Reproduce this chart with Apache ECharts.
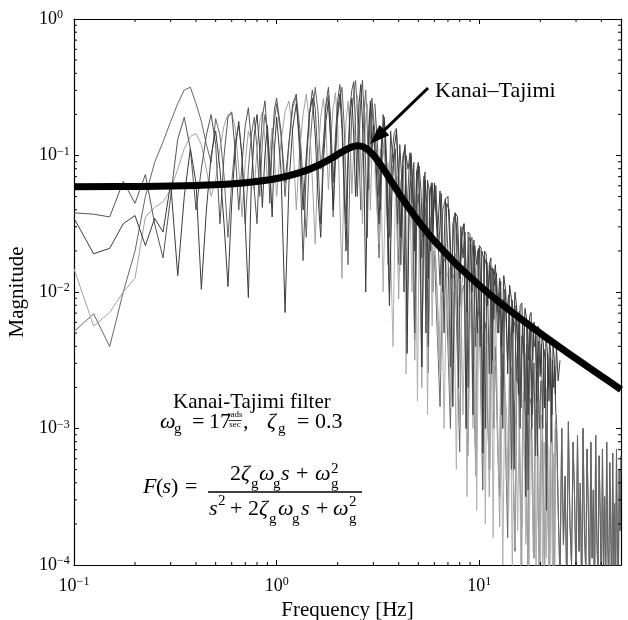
<!DOCTYPE html>
<html>
<head>
<meta charset="utf-8">
<script src="https://cdn.jsdelivr.net/npm/echarts@6/dist/echarts.min.js"></script>
<style>html,body{margin:0;padding:0;background:#fff;overflow:hidden}#c{width:628px;height:620px}</style>
</head>
<body>
<div id="c"></div>
<script>
// ---------------- data ----------------
// Frequency grids [Hz]
const FREQ = [
  0.1,0.125,0.15,0.175,0.2,0.225,0.25,0.275,0.3,0.325,0.35,0.375,0.4,0.425,0.45,0.475,0.5,0.525,0.55,0.575,0.6,0.625,0.65,0.675,0.7,0.725,0.75,0.775,0.8,0.825,0.85,0.875,0.9,0.925,0.95,0.975,
  1,1.05,1.1,1.15,1.2,1.25,1.3,1.35,1.4,1.45,1.5,1.55,1.6,1.65,1.7,1.75,1.8,1.85,1.9,1.95,2,2.05,2.1,2.15,2.2,2.25,2.3,2.35,2.4,2.45,2.5,2.55,2.6,2.65,2.7,2.75,2.8,2.85,2.9,2.95,
  3,3.1,3.2,3.3,3.4,3.5,3.6,3.7,3.8,3.9,4,4.1,4.2,4.3,4.4,4.5,4.6,4.7,4.8,4.9,5,5.1,5.2,5.3,5.4,5.5,5.6,5.7,5.8,5.9,
  6,6.2,6.4,6.6,6.8,7,7.2,7.4,7.6,7.8,8,8.2,8.4,8.6,8.8,9,9.2,9.4,9.6,9.8,10,10.2,10.4,10.6,10.8,11,11.2,11.4,11.6,11.8,
  12,12.3,12.6,12.9,13.2,13.5,13.8,14.1,14.4,14.7,15,15.3,15.6,15.9,16.2,16.5,16.8,17.1,17.4,17.7,18,18.3,18.6,18.9,19.2,19.5,19.8,20.1,20.4,20.7,21,21.3,21.6,21.9,22.2,22.5,22.8,23.1,23.4,23.7,
  24,24.5,25,25.5,26,26.5,27,27.5,28,28.5,29,29.5,30,30.5,31,31.5,32,32.5,33,33.5,34,34.5,35,35.5,36,36.5,37,37.5,38,38.5,39,39.5,40,40.5,41,41.5,42,42.5,43,43.5,44,44.5,45,45.5,46,46.5,47,47.5,48,48.5,49,49.5,50
];
const FREQ_MID = [
  3.05,3.15,3.25,3.35,3.45,3.55,3.65,3.75,3.85,3.95,4.05,4.15,4.25,4.35,4.45,4.55,4.65,4.75,4.85,4.95,5.05,5.15,5.25,5.35,5.45,5.55,5.65,5.75,5.85,5.95,
  6.1,6.3,6.5,6.7,6.9,7.1,7.3,7.5,7.7,7.9,8.1,8.3,8.5,8.7,8.9,9.1,9.3,9.5,9.7,9.9,10.1,10.3,10.5,10.7,10.9,11.1,11.3,11.5,11.7,11.9,
  12.15,12.45,12.75,13.05,13.35,13.65,13.95,14.25,14.55,14.85,15.15,15.45,15.75,16.05,16.35,16.65,16.95,17.25,17.55,17.85,18.15,18.45,18.75,19.05,19.35,19.65,19.95,20.25,20.55,20.85,21.15,21.45,21.75,22.05,22.35,22.65,22.95,23.25,23.55,23.85
];
// Spectra as 100*log10(magnitude)
const SPEC_A_LOG = [
  -146,-172,-168,-150,-144,-166,-146,-156,-120,-188,-130,-95,-120,-198,-140,-100,-82,-110,-150,-196,-135,-95,-75,-102,-150,-204,-120,-85,-70,-96,-138,-100,-78,-108,-145,-95,
  -72,-110,-215,-120,-80,-62,-90,-140,-100,-70,-58,-85,-130,-160,-105,-75,-60,-92,-140,-95,-68,-55,-80,-125,-170,-110,-72,-58,-85,-130,-100,-62,-48,-75,-118,-200,-130,-80,-60,-95,
  -78,-110,-150,-92,-75,-120,-210,-130,-95,-82,-115,-160,-105,-92,-245,-140,-100,-120,-170,-112,-105,-150,-255,-160,-118,-135,-190,-125,-122,-165,
  -120,-160,-126,-200,-132,-130,-175,-284,-142,-145,-190,-160,-150,-300,-156,-158,-200,-162,-162,-230,-166,-168,-318,-170,-172,-210,-180,-175,-250,-190,
  -180,-215,-190,-240,-188,-200,-260,-195,-205,-230,-200,-212,-275,-210,-208,-245,-212,-220,-290,-218,-215,-250,-222,-230,-280,-225,-228,-260,-232,-238,-285,-235,-240,-270,-236,-245,-290,-240,-248,-275,
  -240,-265,-250
];
const SPEC_D_LOG = [
  -142,-143,-145,-119,-135,-114,-150,-175,-130,-88,-72,-95,-140,-110,-85,-70,-92,-150,-100,-72,-68,-98,-140,-105,-78,-65,-90,-125,-150,-100,-72,-60,-85,-135,-92,-66,
  -58,-82,-120,-90,-62,-55,-100,-177,-110,-70,-52,-66,-105,-150,-95,-62,-50,-75,-120,-85,-60,-48,-70,-115,-150,-98,-65,-52,-46,-80,-130,-90,-60,-45,-70,-110,-160,-95,-65,-58,
  -70,-95,-130,-85,-72,-110,-160,-100,-84,-80,-125,-180,-100,-95,-140,-110,-98,-130,-230,-120,-108,-140,-175,-118,-112,-160,-240,-130,-120,-150,
  -125,-150,-195,-140,-132,-170,-255,-150,-142,-160,-210,-155,-150,-185,-270,-165,-160,-190,-240,-170,-168,-200,-290,-180,-176,-205,-260,-185,-182,-220,
  -190,-230,-200,-290,-205,-215,-250,-210,-330,-220,-225,-265,-228,-300,-232,-240,-280,-238,-345,-245,-250,-290,-252,-320,-258,-262,-300,-265
];
const SPEC_B_LOG = [
  -183,-225,-215,-200,-190,-145,-138,-134,-125,-110,-95,-86,-84,-92,-110,-130,-118,-95,-78,-70,-69,-80,-110,-145,-105,-82,-90,-125,-95,-75,-68,-88,-120,-98,-80,-102,
  -130,-90,-68,-60,-85,-140,-95,-70,-55,-75,-118,-165,-100,-72,-58,-80,-125,-88,-65,-54,-78,-135,-190,-110,-75,-60,-82,-128,-95,-70,-56,-68,-105,-150,-98,-72,-62,-90,-140,-100,
  -75,-105,-165,-110,-88,-130,-190,-120,-100,-140,-205,-128,-112,-150,-230,-140,-125,-165,-250,-150,-135,-180,-270,-160,-145,-190,-240,-165,-150,-200,
  -160,-200,-260,-175,-165,-215,-285,-185,-172,-230,-300,-195,-180,-240,-320,-200,-188,-255,-335,-210,-195,-265,-300,-215,-200,-280,-350,-225,-210,-290,
  -205,-300,-372,-230,-215,-310,-360,-240,-225,-330,-387,-250,-235,-340,-400,-255,-245,-350,-410,-265,-250,-330,-395,-270,-258,-360,-420,-280,-265,-345,-405,-285,-270,-370,-420,-290,-278,-355,-410,-295,
  -300
];
const SPEC_C_LOG = [
  -229,-216,-240,-200,-170,-130,-105,-90,-75,-62,-52,-50,-62,-75,-92,-105,-73,-85,-115,-160,-120,-90,-78,-100,-150,-110,-85,-72,-95,-130,-90,-70,-82,-120,-88,-75,
  -62,-85,-130,-92,-65,-57,-80,-120,-160,-100,-70,-50,-68,-110,-90,-64,-56,-88,-145,-105,-72,-60,-50,-76,-120,-180,-110,-70,-55,-45,-66,-100,-140,-95,-68,-52,-80,-125,-90,-62,
  -82,-120,-175,-105,-90,-140,-200,-115,-100,-130,-180,-120,-108,-150,-220,-130,-118,-160,-235,-140,-128,-170,-255,-150,-138,-185,-259,-160,-145,-200,
  -170,-230,-284,-180,-175,-240,-300,-190,-185,-250,-317,-200,-195,-265,-310,-210,-205,-275,-325,-220,-212,-285,-345,-230,-222,-295,-330,-238,-230,-300,
  -240,-310,-350,-250,-245,-320,-380,-260,-255,-330,-390,-268,-262,-340,-372,-275,-270,-350,-400,-282,-278,-355,-395,-288,-285,-360,-410,-292,-290,-370,-405,-295,-294,-375,-415,-298,-296,-380,-400,-300,
  -290,-360,-410,-300,-385,-335,-420,-295,-370,-400,-310,-350,-415,-305,-390,-340,-425,-300,-375,-405,-315,-360,-420,-310,-395,-345,-430,-305,-380,-410,-320,-365,-425,-315,-400,-350,-420,-310,-385,-415,-325,-370,-430,-318,-405,-355,-425,-315,-390,-420,-330,-375,-320
];
const SPEC_E_LOG = [
  -62,-95,-140,-70,-88,-180,-82,-105,-95,-150,-92,-120,-200,-100,-110,-98,-135,-105,-190,-112,-108,-125,-160,-115,-230,-118,-125,-170,-120,-140,
  -122,-170,-128,-230,-135,-140,-190,-145,-150,-270,-152,-175,-156,-215,-160,-165,-290,-166,-180,-168,-240,-170,-175,-300,-178,-200,-180,-260,-183,-195,
  -186,-230,-192,-300,-198,-215,-202,-260,-206,-330,-210,-240,-214,-285,-218,-225,-350,-222,-250,-226,-300,-228,-240,-232,-320,-236,-262,-238,-300,-242,-250,-360,-245,-280,-248,-310,-250,-270,-255,-290
];
const SPEC_F_LOG = [
  -110,-150,-95,-200,-120,-105,-170,-240,-130,-115,-185,-135,-125,-260,-145,-130,-200,-150,-140,-280,-155,-148,-210,-160,-150,-290,-165,-158,-225,-170,
  -175,-250,-180,-300,-190,-182,-270,-200,-330,-205,-195,-290,-210,-350,-215,-205,-300,-225,-360,-230,-215,-320,-235,-370,-240,-225,-330,-245,-380,-250,
  -255,-340,-262,-400,-270,-290,-360,-275,-410,-280,-300,-375,-285,-420,-290,-310,-385,-295,-430,-300,-315,-390,-300,-420,-305,-325,-400,-308,-430,-310,-330,-395,-312,-425,-315,-335,-410,-318,-430,-320
];
// Kanai-Tajimi filter magnitude (thick black curve)
const KT_FREQ = [0.1,0.2,0.3,0.5,0.7,1,1.3,1.6,1.9,2,2.2,2.3,2.4,2.5,2.6,2.7,2.8,3,3.1,3.3,3.5,3.75,4,4.5,5,6,7,8,10,12,15,20,25,30,40,50];
const KT_MAG  = [0.0590,0.0593,0.0597,0.0611,0.0631,0.0678,0.0748,0.0845,0.0971,0.1017,0.1105,0.1141,0.1166,0.1177,0.1171,0.1148,0.1111,0.1007,0.0948,0.0831,0.0727,0.0618,0.0533,0.0411,0.0332,0.0237,0.0185,0.0151,0.0112,0.00889,0.00685,0.00498,0.00393,0.00325,0.00242,0.00193];
// Axes
const X_MIN = 0.1, X_MAX = 50, Y_MIN = 1e-4, Y_MAX = 1;
const X_MINOR_TICKS = [0.2,0.3,0.4,0.5,0.6,0.7,0.8,0.9,2,3,4,5,6,7,8,9,20,30,40];
const Y_MINOR_TICKS = [2e-4,3e-4,4e-4,5e-4,6e-4,7e-4,8e-4,9e-4,2e-3,3e-3,4e-3,5e-3,6e-3,7e-3,8e-3,9e-3,0.02,0.03,0.04,0.05,0.06,0.07,0.08,0.09,0.2,0.3,0.4,0.5,0.6,0.7,0.8,0.9];

// ---------------- chart ----------------
const SERIF = '"Liberation Serif", "Times New Roman", "DejaVu Serif", serif';
const C_SPLIT = 176; // index of 24 Hz in FREQ
function pairs(freqs, logs) { return logs.map((v, i) => [freqs[i], Math.pow(10, v / 100)]); }
function powLabel(v) {
  const e = Math.log10(v), r = Math.round(e);
  if (Math.abs(e - r) > 1e-6) return '';
  return '{b|10}{e|' + (r < 0 ? '\u2212' + (-r) : r) + '}';
}
const labelRich = {
  b: {fontSize: 18, fontFamily: SERIF, color: '#000', lineHeight: 20},
  e: {fontSize: 12, fontFamily: SERIF, color: '#000', lineHeight: 12, verticalAlign: 'top'}
};
function T(x, base, str, size, italic, align) {
  return {type: 'text', x: x, y: base - 0.34 * size, silent: true, z: 100,
    style: {text: str, fontSize: size, fontFamily: SERIF, fontStyle: italic ? 'italic' : 'normal',
      fill: '#000', align: align || 'left', verticalAlign: 'middle'}};
}
function L(x1, y1, x2, y2, w) {
  return {type: 'line', silent: true, z: 100, shape: {x1: x1, y1: y1, x2: x2, y2: y2}, style: {stroke: '#000', lineWidth: w}};
}
function spec(name, data, color) {
  return {type: 'line', name: name, data: data, showSymbol: false, symbol: 'none',
    lineStyle: {color: color, width: 1}, clip: true, z: 2};
}
// high-frequency part of record C as consecutive segments (drawn with a custom series)
const C_SEGMENTS = [];
for (let i = C_SPLIT; i < SPEC_C_LOG.length - 1; i++) {
  C_SEGMENTS.push([FREQ[i], Math.pow(10, SPEC_C_LOG[i] / 100), FREQ[i + 1], Math.pow(10, SPEC_C_LOG[i + 1] / 100)]);
}
const tip = [370, 144], tail = [428, 88];
const dx = tip[0] - tail[0], dy = tip[1] - tail[1], dl = Math.hypot(dx, dy);
const ux = dx / dl, uy = dy / dl, hl = 20, hw = 7;
const bx = tip[0] - ux * hl, by = tip[1] - uy * hl;
const graphics = [
  L(tail[0], tail[1], bx, by, 3),
  {type: 'polygon', silent: true, z: 100, shape: {points: [[tip[0], tip[1]], [bx - uy * hw, by + ux * hw], [bx + uy * hw, by - ux * hw]]}, style: {fill: '#000'}},
  T(435, 99, 'Kanai\u2013Tajimi', 22, false),
  T(173, 410, 'Kanai-Tajimi filter', 21, false),
  T(160, 430, '\u03c9', 22, true), T(174, 434, 'g', 15, false),
  T(192, 430, '=', 22, false), T(209, 430, '17', 22, false),
  T(235, 418, 'rads', 9, false, 'center'), L(228.5, 420.5, 241.5, 420.5, 0.8), T(235, 428, 'sec', 9, false, 'center'),
  T(243, 430, ',', 22, false),
  T(267, 430, '\u03b6', 22, true), T(278, 434, 'g', 15, false),
  T(297, 430, '=', 22, false), T(315, 430, '0.3', 22, false),
  T(143, 495, 'F', 22, true), T(156, 495, '(', 22, false), T(162.5, 495, 's', 22, true), T(171, 495, ')', 22, false),
  T(185, 495, '=', 22, false),
  L(208, 492, 362, 492, 1.3),
  T(230, 482, '2', 22, false), T(241, 482, '\u03b6', 22, true), T(251, 489, 'g', 15, false),
  T(259, 482, '\u03c9', 22, true), T(273, 489, 'g', 15, false), T(281, 482, 's', 22, true),
  T(296, 482, '+', 22, false), T(315, 482, '\u03c9', 22, true), T(331, 489, 'g', 15, false), T(331, 474, '2', 15, false),
  T(209, 517, 's', 22, true), T(218, 506, '2', 15, false), T(230, 517, '+', 22, false),
  T(248, 517, '2', 22, false), T(259, 517, '\u03b6', 22, true), T(269, 524, 'g', 15, false),
  T(278, 517, '\u03c9', 22, true), T(292, 524, 'g', 15, false), T(301, 517, 's', 22, true),
  T(316, 517, '+', 22, false), T(333, 517, '\u03c9', 22, true), T(349, 524, 'g', 15, false), T(349, 507, '2', 15, false)
];
const axisCommon = {
  type: 'log', logBase: 10,
  axisLine: {show: true, lineStyle: {color: '#000', width: 1.2}},
  splitLine: {show: false},
  axisTick: {show: true, inside: true, length: 5, lineStyle: {color: '#000', width: 1}}
};
const chart = echarts.init(document.getElementById('c'), null, {renderer: 'canvas', devicePixelRatio: 1});
chart.setOption({
  animation: false,
  backgroundColor: '#fff',
  grid: {left: 74, right: 7, top: 19, bottom: 55, containLabel: false, outerBoundsMode: 'none'},
  xAxis: [
    Object.assign({}, axisCommon, {position: 'bottom', min: X_MIN, max: X_MAX,
      axisLabel: {show: true, margin: 11, formatter: powLabel, rich: labelRich},
      name: 'Frequency [Hz]', nameLocation: 'middle', nameGap: 32, nameTextStyle: {fontSize: 21, fontFamily: SERIF, color: '#000'}}),
    Object.assign({}, axisCommon, {position: 'top', min: X_MIN, max: X_MAX, axisLabel: {show: false}})
  ],
  yAxis: [
    Object.assign({}, axisCommon, {position: 'left', min: Y_MIN, max: Y_MAX,
      axisLabel: {show: true, margin: 35, align: 'left', formatter: powLabel, rich: labelRich},
      name: 'Magnitude', nameLocation: 'middle', nameGap: 42, nameTextStyle: {fontSize: 21, fontFamily: SERIF, color: '#000'}}),
    Object.assign({}, axisCommon, {position: 'right', min: Y_MIN, max: Y_MAX, axisLabel: {show: false}})
  ],
  series: [
    {type: 'custom', name: 'C (24-50 Hz)', clip: true, z: 2, silent: true,
      data: C_SEGMENTS, encode: {x: [0, 2], y: [1, 3]},
      renderItem: function (params, api) {
        const p = api.coord([api.value(0), api.value(1)]);
        const q = api.coord([api.value(2), api.value(3)]);
        return {type: 'line', shape: {x1: p[0], y1: p[1], x2: q[0], y2: q[1]},
          style: {stroke: '#626262', lineWidth: 1, fill: null}};
      }},
    spec('C', pairs(FREQ, SPEC_C_LOG), '#666666'),
    spec('F', pairs(FREQ_MID, SPEC_F_LOG), '#b0b0b0'),
    spec('B', pairs(FREQ, SPEC_B_LOG), '#a2a2a2'),
    spec('D', pairs(FREQ, SPEC_D_LOG), '#555555'),
    spec('E', pairs(FREQ_MID, SPEC_E_LOG), '#484848'),
    spec('A', pairs(FREQ, SPEC_A_LOG), '#3a3a3a'),
    {type: 'line', name: 'Kanai-Tajimi', data: KT_FREQ.map((x, i) => [x, KT_MAG[i]]),
      showSymbol: false, symbol: 'none', smooth: 0.4, clip: true, z: 5, lineStyle: {color: '#000', width: 7}}
  ],
  graphic: graphics
});
// minor ticks on all four sides, placed through the axes' own log scales
const tickG = [];
X_MINOR_TICKS.forEach(v => {
  const p = chart.convertToPixel({gridIndex: 0}, [v, Y_MIN]), q = chart.convertToPixel({gridIndex: 0}, [v, Y_MAX]);
  tickG.push(L(p[0], p[1], p[0], p[1] - 3, 1), L(q[0], q[1], q[0], q[1] + 3, 1));
});
Y_MINOR_TICKS.forEach(v => {
  const p = chart.convertToPixel({gridIndex: 0}, [X_MIN, v]), q = chart.convertToPixel({gridIndex: 0}, [X_MAX, v]);
  tickG.push(L(p[0], p[1], p[0] + 3, p[1], 1), L(q[0], q[1], q[0] - 3, q[1], 1));
});
chart.setOption({graphic: graphics.concat(tickG)});
</script>
</body>
</html>
